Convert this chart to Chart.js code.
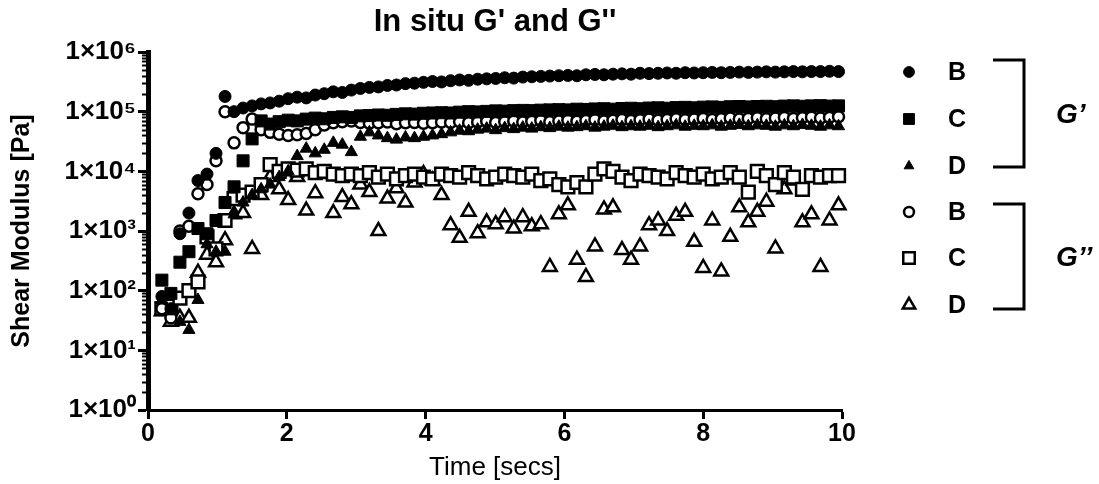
<!DOCTYPE html>
<html>
<head>
<meta charset="utf-8">
<title>In situ G' and G''</title>
<script src="https://cdn.jsdelivr.net/npm/chart.js"></script>
<style>
  html, body { margin: 0; padding: 0; background: #fff; }
  #wrap { position: relative; width: 1099px; height: 484px; }
</style>
</head>
<body>
<div id="wrap"><canvas id="chart" width="1099" height="484"></canvas></div>
<script>
// sample times [secs]
const times = [
  0.20, 0.33, 0.46, 0.59, 0.72, 0.85, 0.98, 1.11, 1.24, 1.37,
  1.50, 1.63, 1.76, 1.89, 2.02, 2.15, 2.28, 2.41, 2.54, 2.67,
  2.80, 2.93, 3.06, 3.19, 3.32, 3.45, 3.58, 3.71, 3.84, 3.97,
  4.10, 4.23, 4.36, 4.49, 4.62, 4.75, 4.88, 5.01, 5.14, 5.27,
  5.40, 5.53, 5.66, 5.79, 5.92, 6.05, 6.18, 6.31, 6.44, 6.57,
  6.70, 6.83, 6.96, 7.09, 7.22, 7.35, 7.48, 7.61, 7.74, 7.87,
  8.00, 8.13, 8.26, 8.39, 8.52, 8.65, 8.78, 8.91, 9.04, 9.17,
  9.30, 9.43, 9.56, 9.69, 9.82, 9.95
];

// G' (storage modulus) [Pa]
const gPrimeB = [
  80, 50, 900, 2000, 7000, 9000, 20000, 180000, 100000, 115000,
  125000, 135000, 140000, 150000, 165000, 175000, 170000, 190000, 200000, 215000,
  210000, 230000, 245000, 255000, 260000, 275000, 280000, 295000, 300000, 310000,
  320000, 315000, 330000, 340000, 335000, 350000, 355000, 360000, 370000, 365000,
  380000, 385000, 390000, 395000, 400000, 405000, 400000, 415000, 420000, 415000,
  425000, 430000, 425000, 440000, 435000, 440000, 445000, 440000, 450000, 445000,
  450000, 455000, 450000, 455000, 460000, 455000, 460000, 465000, 460000, 465000,
  470000, 465000, 470000, 470000, 475000, 470000
];
const gPrimeC = [
  150, 90, 300, 450, 1100, 900, 1500, 3000, 5500, 15000,
  35000, 70000, 62000, 68000, 72000, 70000, 75000, 78000, 76000, 80000,
  82000, 80000, 85000, 86000, 88000, 87000, 90000, 92000, 91000, 94000,
  95000, 96000, 95000, 98000, 100000, 99000, 101000, 103000, 102000, 104000,
  105000, 104000, 106000, 107000, 108000, 107000, 110000, 109000, 111000, 112000,
  110000, 113000, 114000, 112000, 115000, 116000, 114000, 117000, 118000, 116000,
  119000, 120000, 118000, 121000, 122000, 120000, 122000, 123000, 121000, 124000,
  125000, 123000, 125000, 126000, 124000, 125000
];
const gPrimeD = [
  70, 45, 30, 22, 70, 600, 450, 450, 1900, 3000,
  4000, 5000, 6000, 8000, 10000, 18000, 24000, 20000, 23000, 30000,
  28000, 21000, 38000, 45000, 40000, 36000, 34000, 37000, 36000, 38000,
  40000, 42000, 45000, 48000, 47000, 50000, 52000, 49000, 53000, 51000,
  54000, 52000, 55000, 53000, 56000, 54000, 55000, 57000, 54000, 56000,
  58000, 55000, 57000, 56000, 58000, 55000, 57000, 59000, 56000, 58000,
  57000, 59000, 56000, 58000, 60000, 57000, 59000, 58000, 56000, 59000,
  57000, 60000, 58000, 56000, 59000, 57000
];

// G'' (loss modulus) [Pa]
const gDoubleB = [
  50, 35, 1000, 1200, 4200, 6000, 15000, 100000, 30000, 54000,
  75000, 50000, 45000, 42000, 40000, 41000, 43000, 50000, 60000, 65000,
  68000, 70000, 66000, 64000, 65000, 67000, 63000, 65000, 66000, 64000,
  65000, 67000, 66000, 68000, 65000, 67000, 69000, 66000, 68000, 70000,
  67000, 69000, 71000, 68000, 70000, 72000, 69000, 71000, 73000, 70000,
  72000, 74000, 71000, 73000, 75000, 72000, 74000, 76000, 73000, 75000,
  77000, 74000, 76000, 78000, 75000, 77000, 79000, 76000, 78000, 80000,
  77000, 79000, 81000, 78000, 80000, 82000
];
const gDoubleC = [
  50, 55, 75, 100, 140, 800, 500, 1500, 3500, 4000,
  4500, 6000, 13000, 10000, 11000, 10500, 11000, 9500, 10000, 9000,
  8500, 9000, 8500, 9500, 8000, 9000, 7500, 8500, 9000, 8000,
  7500, 9000, 8500, 8000, 9500, 8500, 7500, 8000, 9000, 8500,
  8000, 9000, 7000, 7500, 6000, 5500, 6500, 5500, 9000, 11000,
  10000, 8000, 7000, 9000, 8500, 8000, 7500, 9500, 8500, 8000,
  9000, 7500, 8000, 9500, 8000, 4500, 10000, 8500, 6000, 9500,
  8000, 5000, 8500, 8000, 8500, 8500
];
const gDoubleD = [
  45, 30, 35, 35, 200, 400, 300, 700, 1900, 2000,
  500, 4000, 8000, 5000, 3300, 8000, 2200, 4300, 9000, 2000,
  3700, 2800, 6000, 4500, 1000, 3500, 5200, 3000, 6500, 9000,
  7000, 4000, 1250, 770, 2100, 920, 1400, 1300, 1700, 1100,
  1700, 1200, 1300, 250, 1900, 2700, 330, 170, 550, 2300,
  2500, 480, 330, 550, 1250, 1500, 1000, 1800, 2100, 660,
  240, 1500, 210, 800, 2500, 1400, 2100, 3100, 510, 5000,
  7000, 1400, 1900, 250, 1500, 2700
];

const xTickValues = [0, 2, 4, 6, 8, 10];
const yTickValues = [1, 10, 100, 1000, 10000, 100000, 1000000];
const sampleNames = ['B', 'C', 'D', 'B', 'C', 'D'];
const groupNames = ['G\u2019', 'G\u2019\u2019'];

const FONT = "'Liberation Sans', Arial, Helvetica, sans-serif";
const SUP = ['\u2070', '\u00B9', '\u00B2', '\u00B3', '\u2074', '\u2075', '\u2076'];

function toPoints(values) {
  return values.map((v, i) => ({ x: times[i], y: v }));
}

// marker definitions (style, radius, filled) for the six series
const markers = [
  { style: 'circle', r: 6, filled: true },
  { style: 'rect', r: 8.5, filled: true },
  { style: 'triangle', r: 7, filled: true },
  { style: 'circle', r: 5.5, filled: false },
  { style: 'rect', r: 9, filled: false },
  { style: 'triangle', r: 8, filled: false }
];
const seriesValues = [gPrimeB, gPrimeC, gPrimeD, gDoubleB, gDoubleC, gDoubleD];

const datasets = seriesValues.map((vals, i) => ({
  label: (i < 3 ? "G' " : "G'' ") + sampleNames[i],
  data: toPoints(vals),
  pointStyle: markers[i].style,
  pointRadius: markers[i].r,
  pointBackgroundColor: markers[i].filled ? '#000' : '#fff',
  pointBorderColor: '#000',
  pointBorderWidth: markers[i].filled ? 1 : 2.5,
  showLine: false,
  clip: false
}));

function drawMarker(ctx, m, x, y, scale) {
  const r = m.r * scale;
  ctx.save();
  ctx.lineWidth = m.filled ? 1 : 2.5;
  ctx.strokeStyle = '#000';
  ctx.fillStyle = m.filled ? '#000' : '#fff';
  ctx.beginPath();
  if (m.style === 'circle') {
    ctx.arc(x, y, r, 0, Math.PI * 2);
  } else if (m.style === 'rect') {
    const s = r * Math.SQRT1_2;
    ctx.rect(x - s, y - s, 2 * s, 2 * s);
  } else {
    ctx.moveTo(x, y - r);
    ctx.lineTo(x + r * 0.866, y + r * 0.5);
    ctx.lineTo(x - r * 0.866, y + r * 0.5);
    ctx.closePath();
  }
  ctx.fill();
  ctx.stroke();
  ctx.restore();
}

// title, minor log ticks and the bracketed legend
const extras = {
  id: 'extras',
  afterDraw(chart) {
    const ctx = chart.ctx;
    const area = chart.chartArea;
    const yScale = chart.scales.y;

    ctx.save();
    ctx.fillStyle = '#000';
    ctx.font = 'bold 31px ' + FONT;
    ctx.textAlign = 'center';
    ctx.textBaseline = 'middle';
    ctx.fillText("In situ G' and G''", (area.left + area.right) / 2, 22);

    // minor ticks
    ctx.strokeStyle = '#000';
    ctx.lineWidth = 2;
    for (let d = 0; d < 6; d++) {
      for (let k = 2; k <= 9; k++) {
        const py = Math.round(yScale.getPixelForValue(k * Math.pow(10, d))) + 0.5;
        ctx.beginPath();
        ctx.moveTo(area.left - 6, py);
        ctx.lineTo(area.left, py);
        ctx.stroke();
      }
    }

    // legend
    const rowY = [72, 119, 166, 212, 258, 305];
    ctx.font = 'bold 25px ' + FONT;
    ctx.textAlign = 'center';
    for (let i = 0; i < 6; i++) {
      drawMarker(ctx, markers[i], 909, rowY[i], i === 2 ? 0.8 : 0.9);
      ctx.fillText(sampleNames[i], 957, rowY[i] + 1);
    }
    ctx.lineWidth = 3;
    [[60, 167], [204, 309]].forEach(([t, b], gi) => {
      ctx.beginPath();
      ctx.moveTo(993, t);
      ctx.lineTo(1024, t);
      ctx.lineTo(1024, b);
      ctx.lineTo(993, b);
      ctx.stroke();
      ctx.font = 'italic bold 28px ' + FONT;
      ctx.textAlign = 'left';
      ctx.fillText(groupNames[gi], 1056, (t + b) / 2 + 2);
    });
    ctx.restore();
  }
};

Chart.defaults.font.family = FONT;
Chart.defaults.color = '#000';

new Chart(document.getElementById('chart'), {
  type: 'scatter',
  data: { datasets: datasets },
  options: {
    responsive: false,
    animation: false,
    layout: { padding: { left: 0, right: 257, top: 52, bottom: 0 } },
    plugins: {
      legend: { display: false },
      title: { display: false },
      tooltip: { enabled: false }
    },
    scales: {
      x: {
        type: 'linear',
        min: 0,
        max: 10,
        afterBuildTicks: s => { s.ticks = xTickValues.map(v => ({ value: v })); },
        afterFit: s => { s.height = 74; },
        grid: { drawOnChartArea: false, tickLength: 9, tickWidth: 3, tickColor: '#000' },
        border: { width: 3, color: '#000' },
        ticks: { color: '#000', font: { size: 25, weight: 'bold' }, padding: 0, maxRotation: 0 },
        title: { display: true, text: 'Time [secs]', color: '#000', font: { size: 26 }, padding: { top: 0, bottom: 1 } }
      },
      y: {
        type: 'logarithmic',
        min: 1,
        max: 1000000,
        afterBuildTicks: s => { s.ticks = yTickValues.map(v => ({ value: v, major: true })); },
        afterFit: s => { s.width = 148; },
        grid: { drawOnChartArea: false, tickLength: 10, tickWidth: 3, tickColor: '#000' },
        border: { width: 5, color: '#000' },
        ticks: {
          color: '#000',
          font: { size: 26, weight: 'bold' },
          padding: 2,
          callback: v => '1\u00D710' + SUP[Math.round(Math.log10(v))]
        },
        title: { display: true, text: 'Shear Modulus [Pa]', color: '#000', font: { size: 25, weight: 'bold' }, padding: { top: 7, bottom: 0 } }
      }
    }
  },
  plugins: [extras]
});
</script>
</body>
</html>
